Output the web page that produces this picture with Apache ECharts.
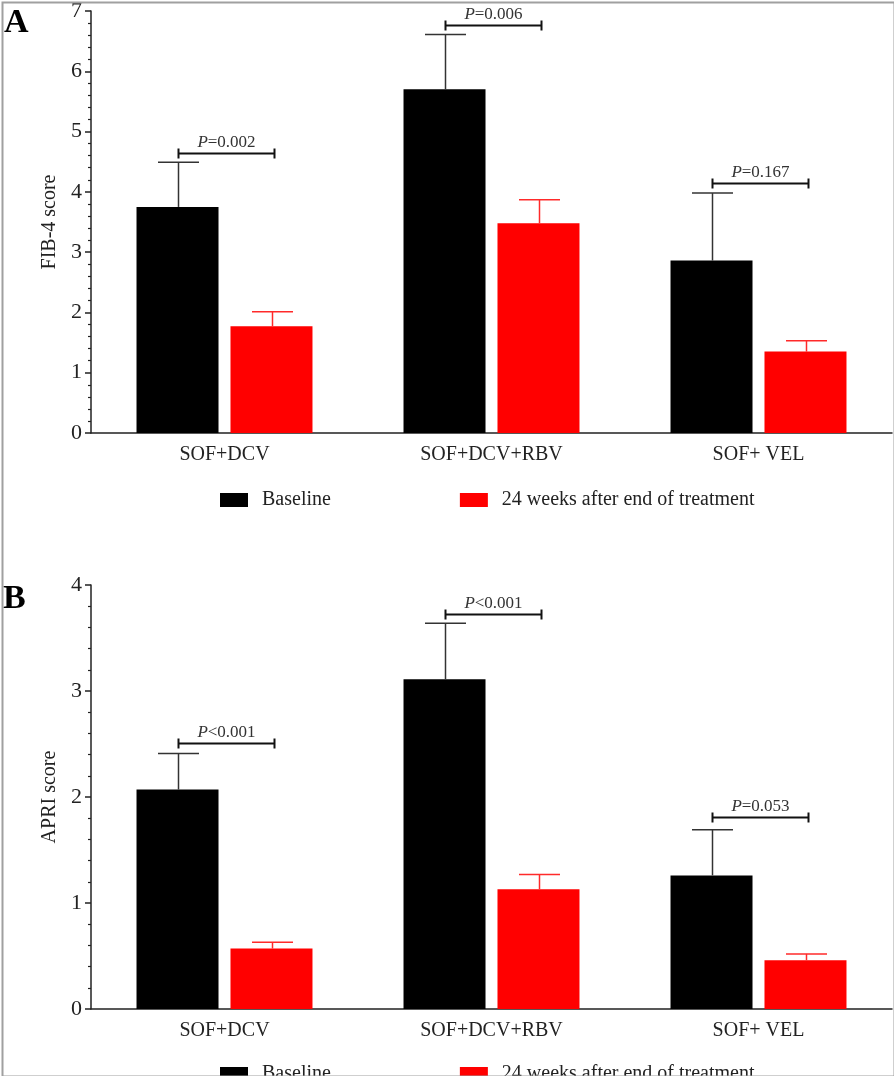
<!DOCTYPE html>
<html>
<head>
<meta charset="utf-8">
<script src="https://cdn.jsdelivr.net/npm/echarts@6/dist/echarts.min.js"></script>
<style>
html,body{margin:0;padding:0;background:#fff;}
#chart{width:894px;height:1076px;}
</style>
</head>
<body>
<div id="chart"></div>
<script>
// ---- data ----
const categories = ['SOF+DCV', 'SOF+DCV+RBV', 'SOF+ VEL'];
const seriesNames = ['Baseline', '24 weeks after end of treatment'];

const fibBaseline = [3.75, 5.70, 2.86];
const fibBaselineUpper = [4.49, 6.61, 3.98];
const fibAfter = [1.77, 3.48, 1.35];
const fibAfterUpper = [2.01, 3.87, 1.53];
const fibPText = ['=0.002', '=0.006', '=0.167'];
const fibPLevel = [4.64, 6.77, 4.14];

const apriBaseline = [2.07, 3.11, 1.26];
const apriBaselineUpper = [2.41, 3.64, 1.69];
const apriAfter = [0.57, 1.13, 0.46];
const apriAfterUpper = [0.63, 1.27, 0.52];
const apriPText = ['<0.001', '<0.001', '=0.053'];
const apriPLevel = [2.51, 3.73, 1.81];

const fibTicks = {min: 0, max: 7, interval: 1};
const apriTicks = {min: 0, max: 4, interval: 1};

// ---- styling ----
const FONT = 'Liberation Serif';
const BAR_W = 82;
const HALF_OFF = 47; // distance from category centre to each bar centre

const chart = echarts.init(document.getElementById('chart'), null, {renderer: 'canvas'});

function errorSeries(vals, uppers, sign, color, gi) {
  return {
    type: 'custom', xAxisIndex: gi, yAxisIndex: gi, z: 5,
    data: vals.map((v, i) => [i, v, uppers[i]]),
    encode: {x: 0, y: [1, 2]},
    silent: true,
    renderItem: function (params, api) {
      const p0 = api.coord([api.value(0), api.value(1)]);
      const p1 = api.coord([api.value(0), api.value(2)]);
      const x = Math.round(p0[0] + sign * HALF_OFF) + 0.5;
      return {
        type: 'group', children: [
          {type: 'line', shape: {x1: x, y1: p0[1], x2: x, y2: p1[1]}, style: {stroke: color, lineWidth: 1.5}},
          {type: 'line', shape: {x1: x - 20.5, y1: p1[1], x2: x + 20.5, y2: p1[1]}, style: {stroke: color, lineWidth: 1.5}}
        ]
      };
    }
  };
}

function bracketSeries(levels, texts, gi) {
  return {
    type: 'custom', xAxisIndex: gi, yAxisIndex: gi, z: 6,
    data: levels.map((v, i) => [i, v, texts[i]]),
    encode: {x: 0, y: 1},
    silent: true,
    renderItem: function (params, api) {
      const p = api.coord([api.value(0), api.value(1)]);
      const i = api.value(0);
      const y = Math.round(p[1]) + 0.5;
      const xl = p[0] - 46, xr = p[0] + 50;
      return {
        type: 'group', children: [
          {type: 'line', shape: {x1: xl, y1: y, x2: xr, y2: y}, style: {stroke: '#111', lineWidth: 2}},
          {type: 'line', shape: {x1: xl, y1: y - 5, x2: xl, y2: y + 5}, style: {stroke: '#111', lineWidth: 2}},
          {type: 'line', shape: {x1: xr, y1: y - 5, x2: xr, y2: y + 5}, style: {stroke: '#111', lineWidth: 2}},
          {type: 'text', x: (xl + xr) / 2, y: y - 2,
            style: {text: '{i|P}' + texts[i], fill: '#333', font: '17px ' + FONT,
              align: 'center', verticalAlign: 'bottom',
              rich: {i: {fontStyle: 'italic', fontFamily: FONT, fontSize: 17, fill: '#333'}}}}
        ]
      };
    }
  };
}

function xAxis(gi) {
  return {
    type: 'category', gridIndex: gi, data: categories,
    axisLine: {lineStyle: {color: '#222', width: 1.5}},
    axisTick: {alignWithLabel: true, length: 5, lineStyle: {color: '#222', width: 1.5}},
    axisLabel: {fontFamily: FONT, fontSize: 20, color: '#222', margin: 12},
    splitLine: {show: false}
  };
}

function yAxis(gi, t, name) {
  return {
    type: 'value', gridIndex: gi, min: t.min, max: t.max, interval: t.interval,
    name: name, nameLocation: 'middle', nameGap: 26, nameRotate: 90,
    nameTextStyle: {fontFamily: FONT, fontSize: 20, color: '#222'},
    axisLine: {show: true, lineStyle: {color: '#222', width: 1.5}},
    axisTick: {show: true, length: 6, lineStyle: {color: '#222', width: 1.5}},
    minorTick: {show: true, splitNumber: 5, length: 3, lineStyle: {color: '#222', width: 1.2}},
    axisLabel: {fontFamily: FONT, fontSize: 22, color: '#222', margin: 9},
    splitLine: {show: false}
  };
}

function legend(top) {
  return {
    left: 215, top: top, itemWidth: 28, itemHeight: 14, itemGap: 129,
    icon: 'rect', data: seriesNames,
    textStyle: {fontFamily: FONT, fontSize: 20, color: '#222', padding: [0, 0, 0, 9]}
  };
}

const option = {
  animation: false,
  backgroundColor: '#fff',
  grid: [
    {left: 91, right: 2, top: 9, height: 424},
    {left: 91, right: 2, top: 585, height: 424}
  ],
  xAxis: [xAxis(0), xAxis(1)],
  yAxis: [yAxis(0, fibTicks, 'FIB-4 score'), yAxis(1, apriTicks, 'APRI score')],
  legend: [legend(485), legend(1059)],
  series: [
    {name: seriesNames[0], type: 'bar', xAxisIndex: 0, yAxisIndex: 0, data: fibBaseline,
      barWidth: BAR_W, barGap: '14.6%', itemStyle: {color: '#000'}},
    {name: seriesNames[1], type: 'bar', xAxisIndex: 0, yAxisIndex: 0, data: fibAfter,
      barWidth: BAR_W, barGap: '14.6%', itemStyle: {color: '#ff0000'}},
    {name: seriesNames[0], type: 'bar', xAxisIndex: 1, yAxisIndex: 1, data: apriBaseline,
      barWidth: BAR_W, barGap: '14.6%', itemStyle: {color: '#000'}},
    {name: seriesNames[1], type: 'bar', xAxisIndex: 1, yAxisIndex: 1, data: apriAfter,
      barWidth: BAR_W, barGap: '14.6%', itemStyle: {color: '#ff0000'}},
    errorSeries(fibBaseline, fibBaselineUpper, -1, '#333', 0),
    errorSeries(fibAfter, fibAfterUpper, 1, '#ff2a2a', 0),
    errorSeries(apriBaseline, apriBaselineUpper, -1, '#333', 1),
    errorSeries(apriAfter, apriAfterUpper, 1, '#ff2a2a', 1),
    bracketSeries(fibPLevel, fibPText, 0),
    bracketSeries(apriPLevel, apriPText, 1)
  ],
  graphic: [
    {type: 'text', left: 4, top: 6, style: {text: 'A', font: 'bold 34px ' + FONT, fill: '#000'}},
    {type: 'text', left: 3, top: 582, style: {text: 'B', font: 'bold 34px ' + FONT, fill: '#000'}},
    {type: 'rect', left: 0, top: 0, z: 100, shape: {x: 0, y: 0, width: 892, height: 1074},
      style: {fill: 'none', stroke: '#a0a0a0', lineWidth: 2}, silent: true}
  ]
};
chart.setOption(option);
</script>
</body>
</html>
